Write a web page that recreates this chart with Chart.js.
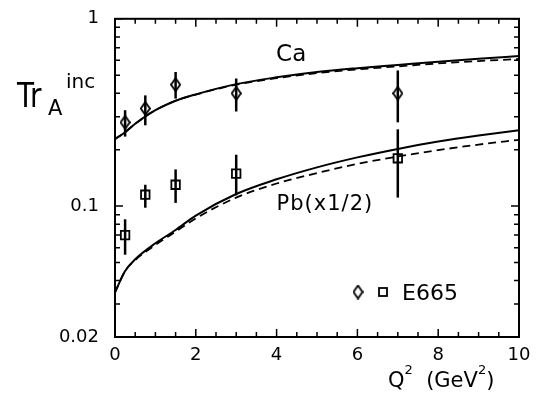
<!DOCTYPE html>
<html>
<head>
<meta charset="utf-8">
<script src="https://cdn.jsdelivr.net/npm/chart.js@4"></script>
<style>
  body { margin: 0; background: #fff; }
</style>
</head>
<body>
<canvas id="myChart" width="542" height="407"></canvas>
<script>
// E665 data points (Q2 in GeV2)
const dataX = [0.25, 0.75, 1.5, 3, 7];
const caY  = [0.28, 0.332, 0.445, 0.40, 0.40];
const caLo = [0.235, 0.27, 0.375, 0.32, 0.28];
const caHi = [0.325, 0.39, 0.52, 0.48, 0.53];
const pbY  = [0.070, 0.115, 0.130, 0.149, 0.180];
const pbLo = [0.055, 0.098, 0.104, 0.114, 0.111];
const pbHi = [0.085, 0.130, 0.157, 0.188, 0.257];

// model curves
const curveX  = [0, 0.25, 0.5, 1, 1.5, 2, 3, 4, 5, 6, 7, 8, 9, 10];
const caSolid = [0.228, 0.248, 0.275, 0.325, 0.365, 0.395, 0.448, 0.487, 0.52, 0.545, 0.567, 0.59, 0.612, 0.633];
const caDash  = [0.228, 0.248, 0.275, 0.325, 0.365, 0.394, 0.445, 0.482, 0.513, 0.537, 0.557, 0.578, 0.595, 0.61];
const pbSolid = [0.0346, 0.045, 0.052, 0.0633, 0.0745, 0.089, 0.116, 0.139, 0.161, 0.182, 0.202, 0.221, 0.238, 0.254];
const pbDash  = [0.0346, 0.045, 0.0515, 0.062, 0.073, 0.086, 0.111, 0.132, 0.150, 0.168, 0.184, 0.199, 0.213, 0.226];

// axis ticks
const xLabels = [0, 2, 4, 6, 8, 10];
const xMinor = [0.5, 1, 1.5, 2.5, 3, 3.5, 4.5, 5, 5.5, 6.5, 7, 7.5, 8.5, 9, 9.5];
const yLabels = [0.02, 0.1, 1];
const yMinor = [0.03, 0.04, 0.05, 0.06, 0.07, 0.08, 0.09, 0.2, 0.3, 0.4, 0.5, 0.6, 0.7, 0.8, 0.9];

const FONT = "'DejaVu Sans', sans-serif";
Chart.defaults.font.family = FONT;
Chart.defaults.color = '#000';

function pts(xs, ys) { return xs.map((x, i) => ({ x: x, y: ys[i] })); }

function makeDiamond() {
  const c = document.createElement('canvas');
  c.width = 11; c.height = 15;
  const g = c.getContext('2d');
  g.lineWidth = 1.8; g.strokeStyle = '#000';
  g.beginPath();
  g.moveTo(5.5, 1); g.lineTo(10, 7.5); g.lineTo(5.5, 14); g.lineTo(1, 7.5);
  g.closePath(); g.stroke();
  return c;
}
const diamond = makeDiamond();

const curveStyle = { showLine: true, pointRadius: 0, borderColor: '#000', cubicInterpolationMode: 'monotone', fill: false };

// draws a list of [text, size, dy] pieces left to right
function drawPieces(ctx, pieces, x, y) {
  pieces.forEach(function(p) {
    ctx.font = p[1] + 'px ' + FONT;
    ctx.fillText(p[0], x, y + p[2]);
    x += ctx.measureText(p[0]).width;
  });
}

// frame, inward ticks, error bars, texts
const decor = {
  id: 'decor',
  beforeDatasetsDraw(chart) {
    const ctx = chart.ctx, xs = chart.scales.x, ys = chart.scales.y;
    ctx.save();
    ctx.strokeStyle = '#000';
    ctx.lineWidth = 2.5;
    [[caLo, caHi], [pbLo, pbHi]].forEach(function(e) {
      dataX.forEach(function(x, i) {
        const px = xs.getPixelForValue(x);
        ctx.beginPath();
        ctx.moveTo(px, ys.getPixelForValue(e[0][i]));
        ctx.lineTo(px, ys.getPixelForValue(e[1][i]));
        ctx.stroke();
      });
    });
    ctx.restore();
  },
  afterDraw(chart) {
    const ctx = chart.ctx, a = chart.chartArea, xs = chart.scales.x, ys = chart.scales.y;
    ctx.save();
    ctx.strokeStyle = '#000';
    ctx.lineWidth = 2;
    ctx.strokeRect(a.left, a.top, a.right - a.left, a.bottom - a.top);
    ctx.lineWidth = 1.5;
    ctx.beginPath();
    xLabels.concat(xMinor).forEach(function(v) {
      const len = xLabels.includes(v) ? 8 : 5;
      const px = xs.getPixelForValue(v);
      ctx.moveTo(px, a.bottom); ctx.lineTo(px, a.bottom - len);
      ctx.moveTo(px, a.top); ctx.lineTo(px, a.top + len);
    });
    yLabels.concat(yMinor).forEach(function(v) {
      const len = yLabels.includes(v) ? 8 : 5;
      const py = ys.getPixelForValue(v);
      ctx.moveTo(a.left, py); ctx.lineTo(a.left + len, py);
      ctx.moveTo(a.right, py); ctx.lineTo(a.right - len, py);
    });
    ctx.stroke();

    // curve labels
    ctx.fillStyle = '#000';
    ctx.textBaseline = 'alphabetic';
    ctx.font = '23px ' + FONT;
    ctx.textAlign = 'center';
    ctx.fillText('Ca', xs.getPixelForValue(4.36), 61);
    ctx.textAlign = 'left';
    ctx.font = '21px ' + FONT;
    ctx.letterSpacing = '1px';
    ctx.fillText('Pb(x1/2)', xs.getPixelForValue(4.0), 210);
    ctx.letterSpacing = '0px';

    // legend
    ctx.drawImage(diamond, 358 - 5.5, 292 - 7.5);
    ctx.lineWidth = 1.8;
    ctx.strokeRect(379, 288, 8, 8);
    ctx.font = '22px ' + FONT;
    ctx.fillText('E665', 402, 300);

    // y title
    ctx.save();
    ctx.translate(17, 107);
    ctx.scale(0.82, 1);
    ctx.font = '34px ' + FONT;
    ctx.fillText('Tr', 0, 0);
    ctx.restore();
    ctx.font = '21px ' + FONT;
    ctx.fillText('A', 48, 115);
    ctx.font = '20px ' + FONT;
    ctx.fillText('inc', 66, 88);

    // x title
    drawPieces(ctx, [['Q', 21, 0], ['2', 13, -13], ['  (GeV', 21, 0], ['2', 13, -13], [')', 21, 0]], 388, 387);
    ctx.restore();
  }
};

const ctx = document.getElementById('myChart');
const myChart = new Chart(ctx, {
  type: 'scatter',
  data: {
    datasets: [
      Object.assign({ label: 'Ca', data: pts(curveX, caSolid), borderWidth: 2 }, curveStyle),
      Object.assign({ label: 'Ca dash', data: pts(curveX, caDash), borderWidth: 1.8, borderDash: [8, 5] }, curveStyle),
      Object.assign({ label: 'Pb', data: pts(curveX, pbSolid), borderWidth: 2 }, curveStyle),
      Object.assign({ label: 'Pb dash', data: pts(curveX, pbDash), borderWidth: 1.8, borderDash: [8, 5] }, curveStyle),
      {
        label: 'E665 Ca', data: pts(dataX, caY),
        pointStyle: diamond, pointRadius: 6, borderColor: '#000', backgroundColor: 'rgba(0,0,0,0)'
      },
      {
        label: 'E665 Pb', data: pts(dataX, pbY),
        pointStyle: 'rect', pointRadius: 6, borderWidth: 1.8, borderColor: '#000', backgroundColor: 'rgba(0,0,0,0)'
      }
    ]
  },
  options: {
    responsive: false,
    animation: false,
    layout: { padding: { top: 14, right: 23, left: 0, bottom: 0 } },
    plugins: { legend: { display: false }, tooltip: { enabled: false } },
    scales: {
      x: {
        type: 'linear', min: 0, max: 10,
        afterBuildTicks: function(s) { s.ticks = xLabels.map(v => ({ value: v })); },
        afterFit: function(s) { s.height = 70; },
        grid: { display: false }, border: { display: false },
        ticks: { font: { size: 18 }, padding: 0, maxRotation: 0 }
      },
      y: {
        type: 'logarithmic', min: 0.02, max: 1,
        afterBuildTicks: function(s) { s.ticks = yLabels.map(v => ({ value: v })); },
        afterFit: function(s) { s.width = 115; },
        grid: { display: false }, border: { display: false },
        ticks: { font: { size: 18 }, padding: 8, callback: v => String(v) }
      }
    }
  },
  plugins: [decor]
});
</script>
</body>
</html>
